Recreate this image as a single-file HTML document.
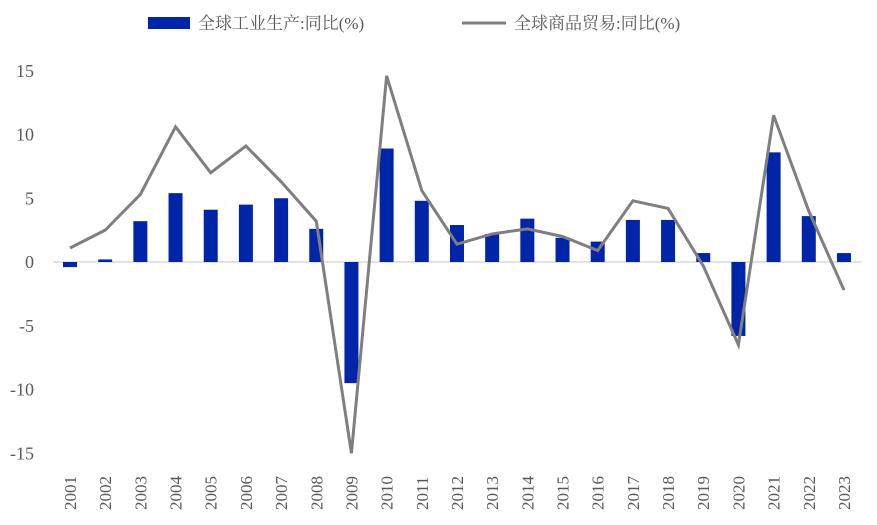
<!DOCTYPE html>
<html><head><meta charset="utf-8"><style>
html,body{margin:0;padding:0;background:#fff;}
svg text{font-family:"Liberation Serif","Noto Serif CJK SC",serif;fill:#595959;}
</style></head><body>
<svg id="chart" width="877" height="520" xmlns="http://www.w3.org/2000/svg">
<g>
<rect x="148" y="17" width="42" height="12" fill="#0025A8"/>
<text x="198" y="29" font-size="17">全球工业生产:同比(%)</text>
<line x1="462" y1="23" x2="506" y2="23" stroke="#7f7f7f" stroke-width="3"/>
<text x="514" y="29" font-size="17">全球商品贸易:同比(%)</text>
</g>
<g id="yaxis"></g>
<g id="xaxis"></g>
<g id="bars"></g>
<g id="lines"></g>
</svg>
<script>
const years=["2001","2002","2003","2004","2005","2006","2007","2008","2009","2010","2011","2012","2013","2014","2015","2016","2017","2018","2019","2020","2021","2022","2023"];
const industrial=[-0.4,0.2,3.2,5.4,4.1,4.5,5.0,2.6,-9.5,8.9,4.8,2.9,2.2,3.4,1.9,1.6,3.3,3.3,0.7,-5.8,8.6,3.6,0.7];
const trade=[1.1,2.5,5.3,10.6,7.0,9.1,6.3,3.2,-15.0,14.6,5.6,1.4,2.2,2.6,2.0,0.9,4.8,4.2,-0.3,-6.5,11.5,4.0,-2.2];
const yTicks=[15,10,5,0,-5,-10,-15];
const NS="http://www.w3.org/2000/svg";
const y=v=>262-v*12.75;
const x=i=>70+i*35.18;
function mk(t,a,p){const e=document.createElementNS(NS,t);for(const k in a)e.setAttribute(k,a[k]);p.appendChild(e);return e;}
const ya=document.getElementById('yaxis'),xa=document.getElementById('xaxis'),bg=document.getElementById('bars'),lg=document.getElementById('lines');
const zl=mk('line',{x1:53,x2:862,y1:y(0),y2:y(0),stroke:'#d9d9d9','stroke-width':1.5},ya);


yTicks.forEach(v=>{const t=mk('text',{x:34,y:y(v)+6,'font-size':18,'text-anchor':'end'},ya);t.textContent=v;

});
years.forEach((yr,i)=>{const t=mk('text',{transform:`translate(${x(i)+6},${510}) rotate(-90)`,'font-size':17},xa);t.textContent=yr;

});
industrial.forEach((v,i)=>{const r=mk('rect',{x:x(i)-7,y:Math.min(y(v),y(0)),width:14,height:Math.abs(y(v)-y(0)),fill:'#0025A8'},bg);

});
const pl=mk('polyline',{points:trade.map((v,i)=>x(i)+','+y(v)).join(' '),fill:'none',stroke:'#7f7f7f','stroke-width':3,'stroke-linejoin':'miter'},lg);


</script>
</body></html>
